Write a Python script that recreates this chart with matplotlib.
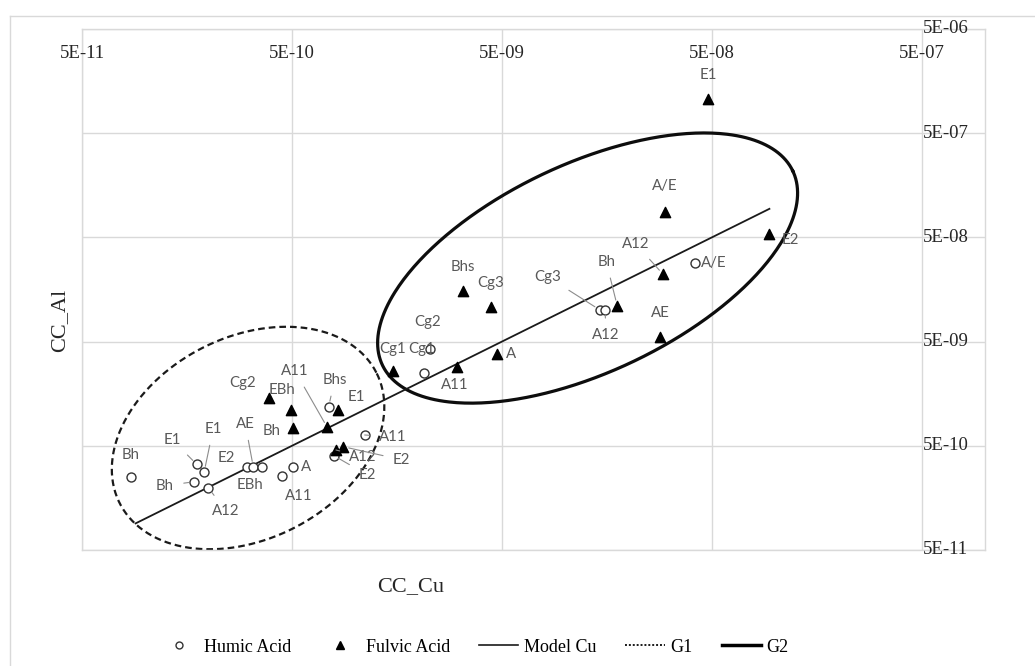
import numpy as np
import matplotlib
matplotlib.use("Agg")
import matplotlib.pyplot as plt
from matplotlib.lines import Line2D

# ---- data -------------------------------------------------------------
humic_labels = ["Bh", "E1", "E1", "Bh", "A12", "E2", "AE", "EBh", "A", "A11",
                "Bhs", "A11", "E2", "Cg1", "Cg2", "Cg3", "A12", "A/E"]
humic_cu = [8.6e-11, 1.76e-10, 1.91e-10, 1.71e-10, 2.0e-10, 3.04e-10, 3.27e-10,
            3.59e-10, 5.07e-10, 4.5e-10, 7.48e-10, 1.11e-9, 7.92e-10, 2.13e-9,
            2.27e-9, 1.46e-8, 1.55e-8, 4.15e-8]
humic_al = [2.52e-10, 3.32e-10, 2.82e-10, 2.26e-10, 1.98e-10, 3.11e-10, 3.15e-10,
            3.11e-10, 3.15e-10, 2.57e-10, 1.19e-9, 6.35e-10, 4.02e-10, 2.48e-9,
            4.29e-9, 1.01e-8, 1.01e-8, 2.82e-8]

fulvic_labels = ["Cg2", "EBh", "Bh", "A11", "E1", "A12", "E2", "Cg1", "A11", "A",
                 "Bhs", "Cg3", "Bh", "A12", "AE", "A/E", "E2", "E1"]
fulvic_cu = [3.89e-10, 4.93e-10, 5.07e-10, 7.36e-10, 8.31e-10, 8.1e-10, 8.78e-10,
             1.51e-9, 3.04e-9, 4.72e-9, 3.27e-9, 4.42e-9, 1.77e-8, 2.93e-8,
             2.83e-8, 2.99e-8, 9.37e-8, 4.8e-8]
fulvic_al = [1.43e-9, 1.10e-9, 7.36e-10, 7.53e-10, 1.10e-9, 4.56e-10, 4.9e-10,
             2.64e-9, 2.83e-9, 3.78e-9, 1.54e-8, 1.07e-8, 1.11e-8, 2.21e-8,
             5.57e-9, 8.83e-8, 5.35e-8, 1.06e-6]

model_cu = [9.0e-11, 9.4e-8]
model_al = [9.0e-11, 9.4e-8]

# group ellipses: centre (Cu, Al)
g1_center = (3.09e-10, 5.94e-10)
g2_center = (1.28e-8, 2.54e-8)

x_ticks = [5e-11, 5e-10, 5e-9, 5e-8, 5e-7]
y_ticks = [5e-11, 5e-10, 5e-9, 5e-8, 5e-7, 5e-6]
tick_text = {5e-11: "5E-11", 5e-10: "5E-10", 5e-9: "5E-09", 5e-8: "5E-08",
             5e-7: "5E-07", 5e-6: "5E-06"}

# ---- label placement (pixels offset, leader line?) ---------------------
humic_off = [(-1, 22, 0), (-24, 24, 1), (9, 43, 1), (-29, -4, 1), (17, -23, 1),
             (-20, 9, 0), (-8, 43, 1), (-12, -18, 0), (13, 0, 0), (16, -20, 0),
             (6, 27, 1), (28, -2, 1), (33, -19, 1), (-2, 24, 0), (-2, 27, 0),
             (-52, 33, 1), (1, -25, 1), (19, 0, 0)]
fulvic_off = [(-26, 15, 0), (-9, 20, 0), (-22, -3, 0), (-32, 56, 1), (18, 13, 0),
              (27, -7, 1), (58, -13, 1), (0, 22, 0), (-2, -18, 0), (14, 0, 0),
              (0, 24, 0), (0, 24, 0), (-11, 44, 1), (-27, 30, 1), (0, 24, 0),
              (0, 26, 0), (21, -6, 0), (0, 24, 0)]

W, H = 1035, 666
ax_l, ax_r, ax_t, ax_b = 82, 985, 29, 550
XMIN, XMAX = 5e-11, 1e-6
YMIN, YMAX = 5e-11, 5e-6

fig = plt.figure(figsize=(W / 100, H / 100), dpi=100)
ax = fig.add_axes([ax_l / W, 1 - ax_b / H, (ax_r - ax_l) / W, (ax_b - ax_t) / H])
ax.set_xscale("log")
ax.set_yscale("log")
ax.set_xlim(XMIN, XMAX)
ax.set_ylim(YMIN, YMAX)

# outer chart frame
fig.add_artist(Line2D([10 / W, 1], [1 - 16 / H, 1 - 16 / H], color="#d9d9d9", lw=1))
fig.add_artist(Line2D([10 / W, 10 / W], [0, 1 - 16 / H], color="#d9d9d9", lw=1))

grid_c = "#d9d9d9"
for s in ax.spines.values():
    s.set_color(grid_c)
    s.set_linewidth(1)
for xv in x_ticks:
    ax.axvline(xv, color=grid_c, lw=1, zorder=0)
for yv in y_ticks:
    ax.axhline(yv, color=grid_c, lw=1, zorder=0)
ax.set_xticks([])
ax.set_yticks([])
ax.minorticks_off()
ax.tick_params(which="both", length=0, labelbottom=False, labelleft=False)

serif = "Liberation Serif"
for xv in x_ticks:
    ax.text(xv, 0.953, tick_text[xv], transform=ax.get_xaxis_transform(),
            ha="center", va="center", fontsize=13.5, family=serif, color="#262626")
x_ax_pos = np.log10(5e-7 / XMIN) / np.log10(XMAX / XMIN)
for yv in y_ticks:
    ax.text(x_ax_pos + 0.001, yv, tick_text[yv], transform=ax.get_yaxis_transform(),
            ha="left", va="center", fontsize=13.5, family=serif, color="#262626")

fig.text(411 / W, 1 - 587 / H, "CC_Cu", ha="center", va="center",
         fontsize=16, family=serif, color="#262626")
fig.text(60 / W, 1 - 320 / H, "CC_Al", ha="center", va="center", rotation=90,
         fontsize=16, family=serif, color="#262626")

# pixels per decade, to draw the group ellipses in screen proportion
px_dec_x = (ax_r - ax_l) / np.log10(XMAX / XMIN)
px_dec_y = (ax_b - ax_t) / np.log10(YMAX / YMIN)


def ellipse(center, a_px, b_px, ang):
    t = np.linspace(0, 2 * np.pi, 400)
    th = np.radians(ang)
    dx = a_px * np.cos(t) * np.cos(th) - b_px * np.sin(t) * np.sin(th)
    dy = a_px * np.cos(t) * np.sin(th) + b_px * np.sin(t) * np.cos(th)
    return (10 ** (np.log10(center[0]) + dx / px_dec_x),
            10 ** (np.log10(center[1]) + dy / px_dec_y))


ex, ey = ellipse(g1_center, 144, 101, 27)
ax.plot(ex, ey, color="#1a1a1a", lw=1.6, ls=(0, (3, 1.8)), zorder=2)
ex, ey = ellipse(g2_center, 227, 104, 25.3)
ax.plot(ex, ey, color="#0d0d0d", lw=2.3, zorder=2)

ax.plot(model_cu, model_al, color="#1a1a1a", lw=1.3, zorder=3)

ax.scatter(humic_cu, humic_al, s=42, marker="o", facecolors="white",
           edgecolors="#333333", linewidths=1.0, zorder=4)
ax.scatter(fulvic_cu, fulvic_al, s=55, marker="^", color="black", zorder=4)

lbl_kw = dict(textcoords="offset pixels", ha="center", va="center",
              fontsize=10.8, family="Lato", color="#595959", zorder=5)
for labels, xs, ys, offs in [(humic_labels, humic_cu, humic_al, humic_off),
                             (fulvic_labels, fulvic_cu, fulvic_al, fulvic_off)]:
    for lab, xv, yv, (dx, dy, lead) in zip(labels, xs, ys, offs):
        arrow = None
        if lead:
            arrow = dict(arrowstyle="-", color="#8c8c8c", lw=0.8,
                         shrinkA=5, shrinkB=4)
        ax.annotate(lab, (xv, yv), xytext=(dx, dy), arrowprops=arrow, **lbl_kw)

handles = [
    Line2D([], [], ls="none", marker="o", ms=5, mfc="white", mec="#333333", mew=1),
    Line2D([], [], ls="none", marker="^", ms=6, color="black"),
    Line2D([], [], color="#1a1a1a", lw=1.2),
    Line2D([], [], color="#1a1a1a", lw=1.4, ls=(0, (1, 1))),
    Line2D([], [], color="black", lw=2.5),
]
fig.legend(handles, ["Humic Acid", "Fulvic Acid", "Model Cu", "G1", "G2"],
           loc="center", bbox_to_anchor=(474 / W, 1 - 647 / H), ncol=5,
           frameon=False, prop={"family": serif, "size": 13},
           handlelength=2.2, handletextpad=0.3, columnspacing=1.6)

fig.savefig("out.png", dpi=100)
